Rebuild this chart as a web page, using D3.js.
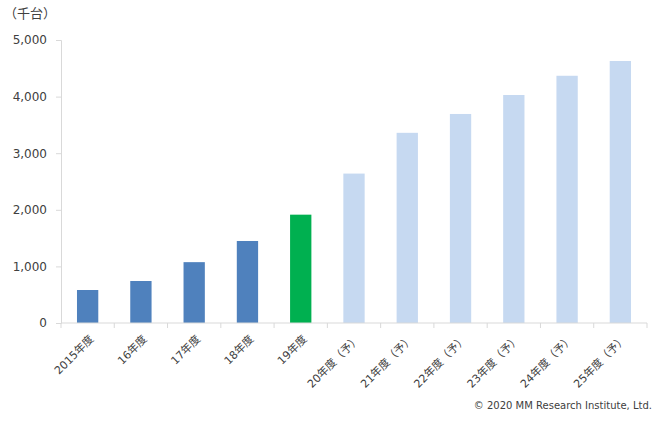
<!DOCTYPE html>
<html><head><meta charset="utf-8">
<script src="https://cdn.jsdelivr.net/npm/d3@7"></script>
<style>
body{margin:0;background:#fff;}
text{font-family:"DejaVu Sans","Noto Sans CJK JP",sans-serif;fill:#404040;}
</style></head><body>
<svg id="c" width="665" height="423"></svg>
<script>
const categories = ["2015年度","16年度","17年度","18年度","19年度","20年度（予）","21年度（予）","22年度（予）","23年度（予）","24年度（予）","25年度（予）"];
const values = [583, 742, 1075, 1449, 1914, 2640, 3360, 3693, 4028, 4368, 4629];
const kinds = ["actual","actual","actual","actual","latest","forecast","forecast","forecast","forecast","forecast","forecast"];
const yTicks = [0, 1000, 2000, 3000, 4000, 5000];
const unitLabel = "（千台）";
const credit = "© 2020 MM Research Institute, Ltd.";

(function(){
const colors = {actual:"#4f81bd", latest:"#00b050", forecast:"#c6d9f1"};
const svg = d3.select("#c");
const mL = 61, mR = 647, mT = 40, mB = 323;

const x = d3.scaleBand().domain(categories).range([mL, mR]).paddingInner(0.6).paddingOuter(0.3);
const xb = d3.scaleBand().domain(categories).range([mL, mR]);
const y = d3.scaleLinear().domain([0, 5000]).range([mB, mT]);

// y axis
const ya = svg.append("g").attr("transform", `translate(${mL},0)`)
  .call(d3.axisLeft(y).tickValues(yTicks).tickSize(5).tickPadding(9).tickFormat(d3.format(",")));
ya.select(".domain").attr("stroke", "#d9d9d9");
ya.selectAll(".tick line").attr("stroke", "#d9d9d9");
ya.selectAll(".tick text").attr("font-size", "12px").attr("fill", "#333").attr("font-family", null);

// bars
svg.append("g").selectAll("rect").data(categories).join("rect")
  .attr("x", d => x(d))
  .attr("width", x.bandwidth())
  .attr("y", (d,i) => y(values[i]))
  .attr("height", (d,i) => y(0) - y(values[i]))
  .attr("fill", (d,i) => colors[kinds[i]]);

// x axis
const xa = svg.append("g").attr("transform", `translate(0,${mB})`);
xa.append("line").attr("x1", mL).attr("x2", mR).attr("y1", 0).attr("y2", 0).attr("stroke", "#d9d9d9");
const bounds = categories.map(c => xb(c)).concat([mR]);
xa.selectAll("line.tk").data(bounds).join("line").attr("class","tk")
  .attr("x1", d => d).attr("x2", d => d).attr("y1", 0).attr("y2", 5).attr("stroke", "#d9d9d9");
xa.selectAll("text").data(categories).join("text")
  .attr("transform", d => `translate(${xb(d) + xb.bandwidth()/2 + 4},14) rotate(-45)`)
  .attr("text-anchor", "end")
  .attr("dy", "0.35em")
  .attr("font-size", "11px")
  .attr("fill", "#333")
  .text(d => d);

svg.append("text").attr("x", 4).attr("y", 18).attr("font-size", "13px").attr("fill", "#333").text(unitLabel);
svg.append("text").attr("x", 652).attr("y", 409).attr("text-anchor", "end").attr("font-size", "10px").attr("fill", "#333").text(credit);
})();
</script>
</body></html>
